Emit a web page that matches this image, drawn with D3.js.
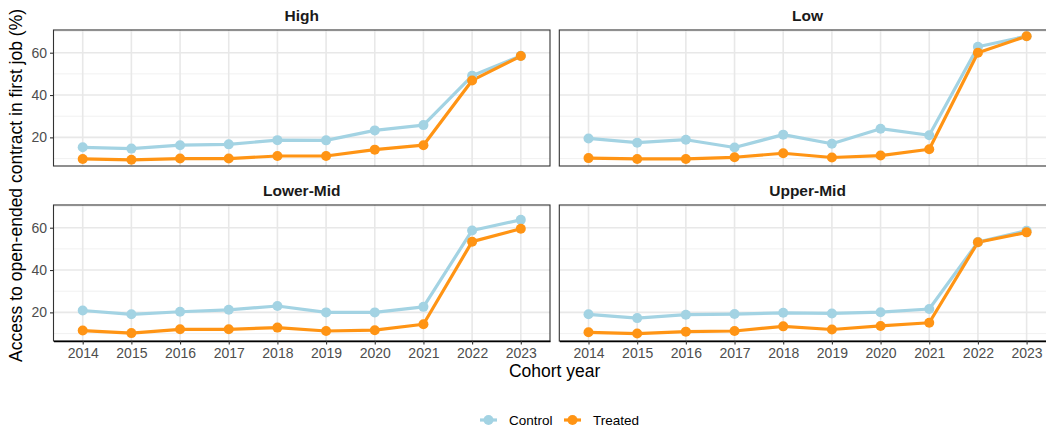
<!DOCTYPE html>
<html>
<head>
<meta charset="utf-8">
<script src="https://cdn.jsdelivr.net/npm/d3@7"></script>
<style>
  html, body { margin: 0; padding: 0; background: #ffffff; }
  svg { display: block; font-family: "Liberation Sans", Arial, sans-serif; }
</style>
</head>
<body>
<svg id="chart" width="1046" height="432"></svg>
<script>
// Cohort years shown on the x axis
const years = [2014, 2015, 2016, 2017, 2018, 2019, 2020, 2021, 2022, 2023];

// Facet panels, in reading order
const groups = ["High", "Low", "Lower-Mid", "Upper-Mid"];

// Share (%) with an open-ended contract in the first job, by group
const controlHigh     = [15.3, 14.7, 16.3, 16.7, 18.7, 18.6, 23.3, 25.8, 49.1, 58.5];
const treatedHigh     = [ 9.8,  9.4, 10.0, 10.0, 11.2, 11.2, 14.2, 16.3, 46.9, 58.4];
const controlLow      = [19.5, 17.5, 18.9, 15.2, 21.3, 17.0, 24.1, 21.0, 62.8, 67.8];
const treatedLow      = [10.2,  9.8,  9.8, 10.6, 12.5, 10.5, 11.4, 14.4, 60.0, 67.8];
const controlLowerMid = [20.9, 19.1, 20.3, 21.2, 23.0, 20.0, 20.0, 22.6, 58.7, 63.7];
const treatedLowerMid = [11.4, 10.2, 12.0, 12.0, 12.8, 11.2, 11.6, 14.4, 53.4, 59.5];
const controlUpperMid = [19.1, 17.3, 18.9, 19.2, 19.8, 19.5, 20.1, 21.6, 53.2, 58.6];
const treatedUpperMid = [10.6, 10.0, 10.9, 11.2, 13.4, 11.9, 13.6, 15.1, 53.1, 57.8];

// Y axis ticks
const yMajorTicks = [20, 40, 60];
const yMinorTicks = [10, 30, 50, 70];

const seriesNames = ["Control", "Treated"];
const colors = { Control: "#a3d3e3", Treated: "#ff9414" };

const seriesByGroup = {
  "High":      { Control: controlHigh,     Treated: treatedHigh },
  "Low":       { Control: controlLow,      Treated: treatedLow },
  "Lower-Mid": { Control: controlLowerMid, Treated: treatedLowerMid },
  "Upper-Mid": { Control: controlUpperMid, Treated: treatedUpperMid }
};

const svg = d3.select("#chart");

// Panel geometry (2 x 2 facet grid)
const colX = [53.5, 559.3];
const panelW = 496.5;
const rowY = [30, 205];
const panelH = 136;

// Shared y range across panels, with 5% expansion around the data
const allVals = [].concat(...groups.map(g => seriesNames.flatMap(s => seriesByGroup[g][s])));
const yMin = d3.min(allVals), yMax = d3.max(allVals);
const pad = (yMax - yMin) * 0.05;

const x = d3.scalePoint().domain(years).range([0, panelW]).padding(0.6);
const y = d3.scaleLinear().domain([yMin - pad, yMax + pad]).range([panelH, 0]);

const line = d3.line().x((d, i) => x(years[i])).y(d => y(d));

groups.forEach((g, gi) => {
  const col = gi % 2, row = Math.floor(gi / 2);
  const panel = svg.append("g").attr("transform", `translate(${colX[col]},${rowY[row]})`);

  // Strip title
  panel.append("text")
    .attr("x", panelW / 2).attr("y", -9)
    .attr("text-anchor", "middle")
    .attr("font-size", 15.5).attr("font-weight", "bold").attr("fill", "#1a1a1a")
    .text(g);

  // Gridlines
  const grid = panel.append("g");
  grid.selectAll(".ymin").data(yMinorTicks).join("line")
    .attr("x1", 0).attr("x2", panelW)
    .attr("y1", d => y(d)).attr("y2", d => y(d))
    .attr("stroke", "#ededed").attr("stroke-width", 0.8);
  grid.selectAll(".ymaj").data(yMajorTicks).join("line")
    .attr("x1", 0).attr("x2", panelW)
    .attr("y1", d => y(d)).attr("y2", d => y(d))
    .attr("stroke", "#e8e8e8").attr("stroke-width", 1.6);
  grid.selectAll(".xmaj").data(years).join("line")
    .attr("x1", d => x(d)).attr("x2", d => x(d))
    .attr("y1", 0).attr("y2", panelH)
    .attr("stroke", "#e8e8e8").attr("stroke-width", 1.6);

  // Lines, then points
  seriesNames.forEach(s => {
    panel.append("path")
      .datum(seriesByGroup[g][s])
      .attr("d", line)
      .attr("fill", "none")
      .attr("stroke", colors[s])
      .attr("stroke-width", 3.2)
      .attr("stroke-linejoin", "round");
  });
  seriesNames.forEach(s => {
    panel.selectAll(null).data(seriesByGroup[g][s]).join("circle")
      .attr("cx", (d, i) => x(years[i]))
      .attr("cy", d => y(d))
      .attr("r", 5)
      .attr("fill", colors[s]);
  });

  // Panel border
  panel.append("rect")
    .attr("x", 0).attr("y", 0).attr("width", panelW).attr("height", panelH)
    .attr("fill", "none").attr("stroke", "#333333").attr("stroke-width", 1.1);

  // Y axis on left column
  if (col === 0) {
    const ya = panel.append("g")
      .call(d3.axisLeft(y).tickValues(yMajorTicks).tickSize(3.5).tickPadding(3));
    ya.select(".domain").remove();
    ya.selectAll(".tick line").attr("stroke", "#333333").attr("stroke-width", 1.1);
    ya.selectAll(".tick text").attr("font-size", 14).attr("fill", "#4d4d4d")
      .attr("font-family", "Liberation Sans, Arial, sans-serif");
  }

  // X axis on bottom row
  if (row === 1) {
    const xa = panel.append("g").attr("transform", `translate(0,${panelH})`)
      .call(d3.axisBottom(x).tickSize(3.5).tickSizeOuter(0).tickPadding(4));
    xa.select(".domain").attr("stroke", "#000000").attr("stroke-width", 1.3);
    xa.selectAll(".tick line").attr("stroke", "#333333").attr("stroke-width", 1.1);
    xa.selectAll(".tick text").attr("font-size", 14).attr("fill", "#4d4d4d")
      .attr("font-family", "Liberation Sans, Arial, sans-serif");
  }
});

// Axis titles
const plotCenterX = (colX[0] + colX[1] + panelW) / 2;
svg.append("text")
  .attr("x", plotCenterX).attr("y", 377)
  .attr("text-anchor", "middle")
  .attr("font-size", 17.5).attr("fill", "#000")
  .text("Cohort year");

svg.append("text")
  .attr("transform", `translate(22,${(rowY[0] + rowY[1] + panelH) / 2}) rotate(-90)`)
  .attr("text-anchor", "middle")
  .attr("font-size", 17.5).attr("fill", "#000")
  .text("Access to open-ended contract in first job (%)");

// Legend
const legendItems = [
  { name: "Control", keyX: 480, textX: 509 },
  { name: "Treated", keyX: 564, textX: 593 }
];
const legend = svg.append("g").attr("transform", "translate(0,420)");
legendItems.forEach(item => {
  legend.append("line")
    .attr("x1", item.keyX).attr("x2", item.keyX + 17)
    .attr("y1", 0).attr("y2", 0)
    .attr("stroke", colors[item.name]).attr("stroke-width", 3.2);
  legend.append("circle")
    .attr("cx", item.keyX + 8.5).attr("cy", 0).attr("r", 5)
    .attr("fill", colors[item.name]);
  legend.append("text")
    .attr("x", item.textX).attr("y", 0).attr("dy", "0.35em")
    .attr("font-size", 13.5).attr("fill", "#000")
    .text(item.name);
});
</script>
</body>
</html>
